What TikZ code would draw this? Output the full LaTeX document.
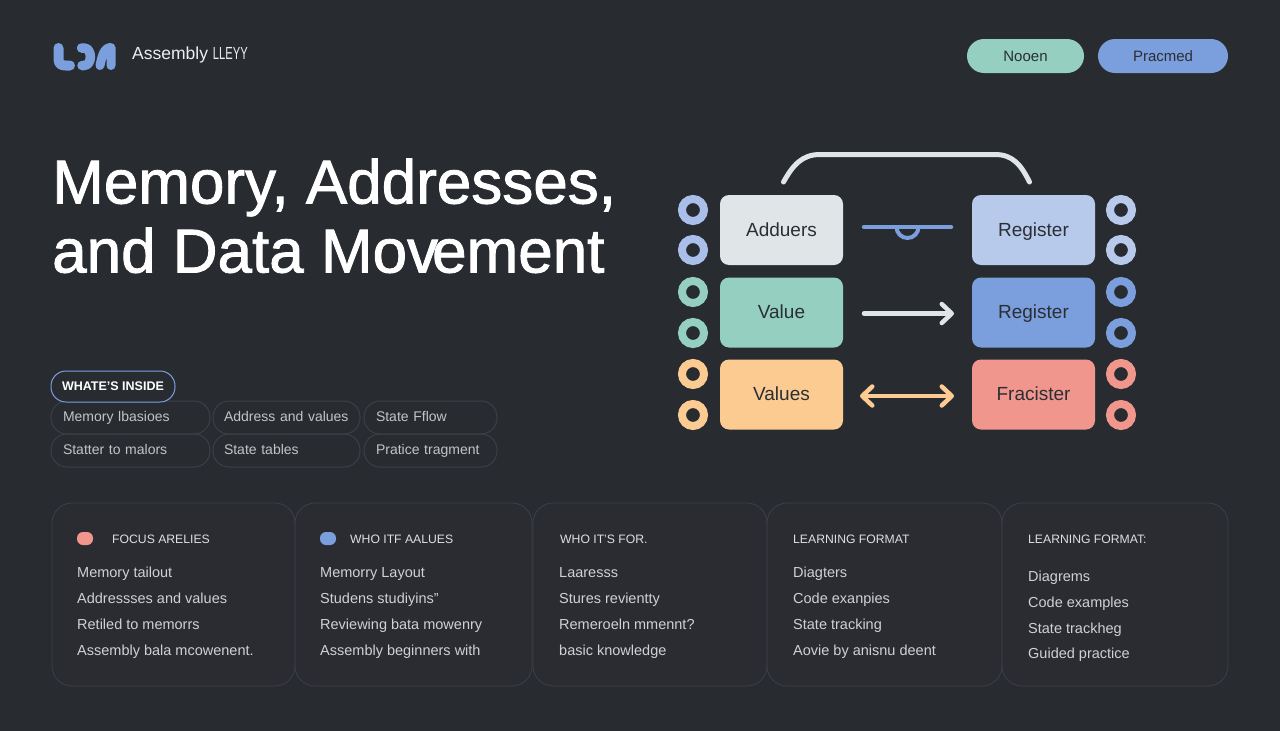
\documentclass[tikz,border=0pt]{standalone}
\usepackage{fontspec}
\setmainfont{Liberation Sans}
\newfontface\titleface{Liberation Sans}[FakeBold=1.4]
\usetikzlibrary{arrows.meta}

\definecolor{bgdark}{HTML}{282C31}
\definecolor{carddark}{HTML}{2A2C31}
\definecolor{edgegrey}{HTML}{3B4047}
\definecolor{inkdark}{HTML}{2B2F35}
\definecolor{paleice}{HTML}{E0E6E8}
\definecolor{mint}{HTML}{94CFC0}
\definecolor{peach}{HTML}{FBCB92}
\definecolor{paleblue}{HTML}{B8CAEC}
\definecolor{midblue}{HTML}{7B9EDC}
\definecolor{salmon}{HTML}{F1968C}
\definecolor{ringblue}{HTML}{A9BFEA}

\tikzset{
    x=1pt, y=1pt,
    toppill/.style   = {rounded corners=17pt, minimum height=34pt, inner sep=0pt, outer sep=0pt,
                        text=inkdark, execute at begin node=\strut, font=\fontsize{15}{25}\selectfont},
    bigtitle/.style  = {anchor=base west, inner sep=0pt, text=white, font=\fontsize{62}{70}\titleface},
    chipbox/.style   = {draw=edgegrey, line width=1pt, rounded corners=16pt, minimum height=33pt,
                        anchor=north west, inner xsep=12pt, inner ysep=0pt, outer sep=0pt, align=left,
                        text=white!72!bgdark, execute at begin node=\strut, font=\fontsize{14}{22}\selectfont},
    cardbox/.style   = {draw=edgegrey, fill=carddark, line width=0.8pt, rounded corners=20pt,
                        minimum height=183pt, anchor=north west, inner sep=0pt, outer sep=0pt},
    cardhead/.style  = {anchor=base west, inner sep=0pt, text=white!85!bgdark, font=\fontsize{12.2}{15}\selectfont},
    cardline/.style  = {anchor=base west, inner sep=0pt, text=white!78!bgdark, font=\fontsize{14.5}{17}\selectfont},
    carddot/.style   = {rounded corners=6pt, minimum width=16pt, minimum height=13pt, inner sep=0pt},
    regbox/.style    = {rounded corners=9pt, minimum width=123pt, minimum height=70pt, inner sep=0pt,
                        outer sep=0pt, text=inkdark, execute at begin node=\strut, font=\fontsize{19}{30}\selectfont},
    ringdot/.style   = {circle, line width=8pt, minimum size=22pt, inner sep=0pt, outer sep=0pt},
    wire/.style      = {line width=4.5pt, line cap=round, shorten <=21pt, shorten >=18pt},
}

\begin{document}
\begin{tikzpicture}
    \useasboundingbox (0,0) rectangle (1280,-731);
    \fill[bgdark] (0,0) rectangle (1280,-731);

    % logo
    \draw[midblue, line width=10pt, line cap=round, line join=round]
        (58.5,-48) -- (58.5,-59) .. controls (58.5,-64) and (61,-65.5) .. (66,-65.5) -- (70,-65.5);
    \draw[midblue, line width=9.5pt, line cap=round, line join=round]
        (81.5,-48) -- (84,-48) .. controls (92.5,-48) and (92.5,-65.5) .. (84,-65.5) -- (82,-65.5);
    \draw[midblue, line width=9pt, line cap=round, line join=round]
        (100,-65.5) .. controls (102,-56) and (104,-47.5) .. (111,-47.5) -- (111,-65.5);
    \node[anchor=base west, inner sep=0pt, text=white!92!bgdark, font=\fontsize{17.5}{21}\selectfont]
        (brand) at (132,-59.5) {Assembly \scalebox{0.64}[1]{LLEYY}};

    % top right pills
    \node[toppill, fill=mint, minimum width=117pt]     (nooen) at (1025.5,-56) {Nooen};
    \node[toppill, fill=midblue, minimum width=130pt]  (pracm) at (1163,-56)   {Pracmed};

    % title
    \node[bigtitle] (titleone) at (52,-203.5) {Memory, Addresses,};
    \node[bigtitle] (titletwo) at (52,-272.5) {and Data Mov\kern-6pt ement};

    % whats inside
    \node[chipbox, text width=135pt] (chipa) at (51,-401) {Memory lbasioes};
    \node[chipbox, text width=125pt, inner xsep=11pt] (chipb) at (213,-401) {Address and values};
    \node[chipbox, text width=109pt] (chipc) at (364,-401) {State Fflow};
    \node[chipbox, text width=135pt] (chipd) at (51,-434) {Statter to malors};
    \node[chipbox, text width=125pt, inner xsep=11pt] (chipe) at (213,-434) {State tables};
    \node[chipbox, text width=109pt] (chipf) at (364,-434) {Pratice tragment};
    \node[draw=midblue, fill=bgdark, line width=1pt, rounded corners=15pt, minimum width=124pt,
          minimum height=31pt, inner sep=0pt, text=white, font=\fontsize{12.5}{15}\bfseries\selectfont]
        (inside) at (113,-386.5) {WHATE'S INSIDE};

    % cards
    \node[cardbox, minimum width=243pt] (cardone)   at (52,-503)   {};
    \node[cardbox, minimum width=237pt] (cardtwo)   at (295,-503)  {};
    \node[cardbox, minimum width=234pt] (cardthree) at (533,-503)  {};
    \node[cardbox, minimum width=235pt] (cardfour)  at (767,-503)  {};
    \node[cardbox, minimum width=226pt] (cardfive)  at (1002,-503) {};

    \node[carddot, fill=salmon]  (dotone) at (85,-538.5)  {};
    \node[carddot, fill=midblue] (dottwo) at (328,-538.5) {};

    \node[cardhead] (heada) at (112,-543) {FOCUS ARELIES};           %focus
    \node[cardline] (linea) at (77,-577.5)  {Memory tailout};
    \node[cardline] (lineb) at (77,-603.5)  {Addressses and values};
    \node[cardline] (linec) at (77,-629.5)  {Retiled to memorrs};
    \node[cardline] (lined) at (77,-655)  {Assembly bala mcowenent.};

    \node[cardhead] (headb) at (350,-543) {WHO ITF AALUES};          %values
    \node[cardline] (linee) at (320,-577.5) {Memorry Layout};
    \node[cardline] (linef) at (320,-603.5) {Studens studiyins"};
    \node[cardline] (lineg) at (320,-629.5) {Reviewing bata mowenry};
    \node[cardline] (lineh) at (320,-655) {Assembly beginners with};

    \node[cardhead] (headc) at (560,-543) {WHO IT'S FOR.};           %who
    \node[cardline] (linei) at (559,-577.5) {Laaresss};
    \node[cardline] (linej) at (559,-603.5) {Stures revientty};
    \node[cardline] (linek) at (559,-629.5) {Remeroeln mmennt?};
    \node[cardline] (linel) at (559,-655) {basic knowledge};

    \node[cardhead] (headd) at (793,-543) {LEARNING FORMAT};         %format
    \node[cardline] (linem) at (793,-577.5) {Diagters};
    \node[cardline] (linen) at (793,-603.5) {Code exanpies};
    \node[cardline] (lineo) at (793,-629.5) {State tracking};
    \node[cardline] (linep) at (793,-655) {Aovie by anisnu deent};

    \node[cardhead] (heade) at (1028,-543) {LEARNING FORMAT:};       %format again
    \node[cardline] (lineq) at (1028,-581) {Diagrems};
    \node[cardline] (liner) at (1028,-607) {Code examples};
    \node[cardline] (lines) at (1028,-633) {State trackheg};
    \node[cardline] (linet) at (1028,-658.5) {Guided practice};

    % registers
    \node[regbox, fill=paleice]  (adduers) at (781.5,-230)  {Adduers};
    \node[regbox, fill=mint]     (value)   at (781.5,-312.5) {Value};
    \node[regbox, fill=peach]    (values)  at (781.5,-394.5) {Values};
    \node[regbox, fill=paleblue] (regone)  at (1033.5,-230)  {Register};
    \node[regbox, fill=midblue]  (regtwo)  at (1033.5,-312.5) {Register};
    \node[regbox, fill=salmon]   (fraci)   at (1033.5,-394.5) {Fracister};

    % rings
    \foreach \ry/\lc/\rc in {210/ringblue/paleblue, 250/ringblue/paleblue, 292/mint/midblue,
                             333/mint/midblue, 374/peach/salmon, 415/peach/salmon}{
        \node[ringdot, draw=\lc] (left\ry)  at (693,-\ry)  {};
        \node[ringdot, draw=\rc] (right\ry) at (1121,-\ry) {};
    }

    % connectors
    \draw[paleice, line width=5pt, line cap=round]
        ([xshift=2pt,yshift=13pt]adduers.north) .. controls (793,-165) and (802,-154.5) .. (820,-154.5)
        -- (995,-154.5) .. controls (1013,-154.5) and (1021,-165) .. ([xshift=-4pt,yshift=13pt]regone.north);
    \draw[wire, midblue, shorten >=21pt] ([yshift=3pt]adduers.east) -- coordinate[midway] (cup) ([yshift=3pt]regone.west);
    \draw[midblue, line width=4pt] ([xshift=-11pt]cup) arc (180:360:11pt);
    \draw[wire, paleice, -{Straight Barb[round,length=10pt,width=19pt]}]
        ([yshift=-1pt]value.east) -- ([yshift=-1pt]regtwo.west);
    \draw[wire, peach, shorten <=17pt, shorten >=18pt, {Straight Barb[round,length=10pt,width=19pt]}-{Straight Barb[round,length=10pt,width=19pt]}]
        ([yshift=-1.5pt]values.east) -- ([yshift=-1.5pt]fraci.west);
\end{tikzpicture}
\end{document}
